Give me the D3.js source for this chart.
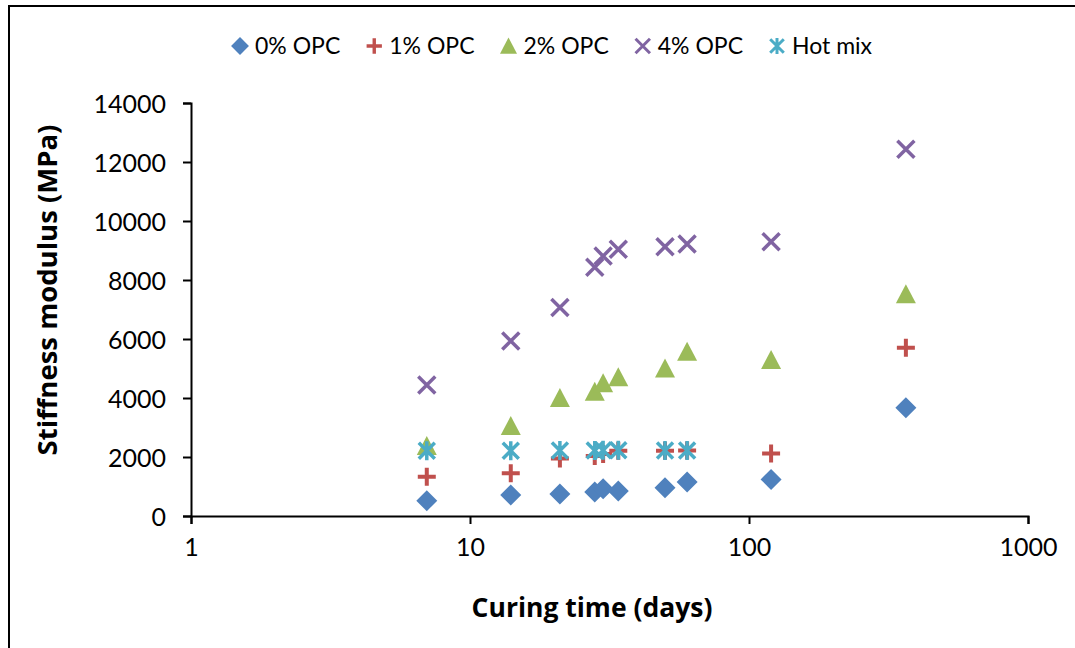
<!DOCTYPE html>
<html>
<head>
<meta charset="utf-8">
<script src="https://cdn.jsdelivr.net/npm/d3@7"></script>
<style>
  html, body { margin: 0; padding: 0; background: #fff; }
  svg { display: block; font-family: Lato, "Open Sans", sans-serif; }
</style>
</head>
<body>
<svg id="chart" width="1075" height="648"></svg>
<script>
// ---- data ----
const days = [7, 14, 21, 28, 30, 34, 50, 60, 120, 365];
const opc0 = [520, 710, 750, 810, 920, 850, 960, 1150, 1240, 3670];
const opc1 = [1330, 1450, 1950, 2030, 2100, 2210, 2210, 2220, 2120, 5700];
const opc2 = [2370, 3050, 4000, 4210, 4500, 4700, 5000, 5570, 5290, 7520];
const opc4 = [4440, 5930, 7070, 8430, 8810, 9040, 9130, 9220, 9300, 12430];
const hotDays = [7, 14, 21, 28, 30, 34, 50, 60];
const hotMix = [2210, 2210, 2220, 2220, 2230, 2230, 2220, 2220];
const seriesNames = ["0% OPC", "1% OPC", "2% OPC", "4% OPC", "Hot mix"];
const xTicks = [1, 10, 100, 1000];
const yTicks = [0, 2000, 4000, 6000, 8000, 10000, 12000, 14000];
const xTitle = "Curing time (days)";
const yTitle = "Stiffness modulus (MPa)";

const colors = ["#4F81BD", "#C0504D", "#9BBB59", "#8064A2", "#4BACC6"];
const series = [
  { name: seriesNames[0], x: days, y: opc0, shape: "diamond", color: colors[0] },
  { name: seriesNames[1], x: days, y: opc1, shape: "plus", color: colors[1] },
  { name: seriesNames[2], x: days, y: opc2, shape: "triangle", color: colors[2] },
  { name: seriesNames[3], x: days, y: opc4, shape: "cross", color: colors[3] },
  { name: seriesNames[4], x: hotDays, y: hotMix, shape: "star", color: colors[4] }
];

const svg = d3.select("#chart");

// outer frame
svg.append("rect").attr("x", 9).attr("y", 6).attr("width", 1100).attr("height", 700)
  .attr("fill", "none").attr("stroke", "#000").attr("stroke-width", 2);

const x = d3.scaleLog().domain([1, 1000]).range([191, 1028]);
const y = d3.scaleLinear().domain([0, 14000]).range([516, 103]);

// axes
const xAxis = svg.append("g").attr("transform", `translate(0,${y(0)})`)
  .call(d3.axisBottom(x).tickValues(xTicks).tickFormat(d3.format("d")).tickSize(8).tickPadding(14));
const yAxis = svg.append("g").attr("transform", `translate(${x(1)},0)`)
  .call(d3.axisLeft(y).tickValues(yTicks).tickFormat(d3.format("d")).tickSize(8).tickPadding(17));
[xAxis, yAxis].forEach(g => {
  g.select(".domain").attr("stroke", "#000").attr("stroke-width", 2);
  g.selectAll(".tick line").attr("stroke", "#000").attr("stroke-width", 2);
  g.selectAll(".tick text").attr("fill", "#000").style("font-size", "25px")
    .style("font-family", "Lato, 'Open Sans', sans-serif");
});
yAxis.selectAll(".tick text").attr("dy", "0.36em");

// axis titles
svg.append("text").attr("x", 592).attr("y", 617).attr("text-anchor", "middle")
  .style("font-family", "'Open Sans', Lato, sans-serif")
  .style("font-size", "26.5px").style("font-weight", "bold").text(xTitle);
svg.append("text").attr("transform", "translate(57,290) rotate(-90)").attr("text-anchor", "middle")
  .style("font-family", "'Open Sans', Lato, sans-serif")
  .style("font-size", "27.5px").style("font-weight", "bold").text(yTitle);

// marker drawing
function drawMarker(g, shape, color) {
  if (shape === "diamond") {
    g.append("path").attr("d", "M0,-10.5L10.5,0L0,10.5L-10.5,0Z").attr("fill", color);
  } else if (shape === "triangle") {
    g.append("path").attr("d", "M0,-10L10,9L-10,9Z").attr("fill", color);
  } else if (shape === "plus") {
    g.append("path").attr("d", "M-9,0H9M0,-9V9").attr("stroke", color).attr("stroke-width", 4).attr("fill", "none");
  } else if (shape === "cross") {
    g.append("path").attr("d", "M-8.5,-8.5L8.5,8.5M-8.5,8.5L8.5,-8.5").attr("stroke", color).attr("stroke-width", 3.5).attr("fill", "none");
  } else if (shape === "star") {
    g.append("path").attr("d", "M-8,-8L8,8M-8,8L8,-8M0,-9.5V9.5").attr("stroke", color).attr("stroke-width", 3.5).attr("fill", "none");
  }
}

// points
series.forEach(s => {
  const pts = s.x.map((d, i) => ({ x: d, y: s.y[i] }));
  svg.append("g").selectAll("g").data(pts).join("g")
    .attr("transform", d => `translate(${x(d.x)},${y(d.y)})`)
    .each(function () { drawMarker(d3.select(this), s.shape, s.color); });
});

// legend
const legend = svg.append("g");
let lx = 240;
series.forEach(s => {
  const g = legend.append("g").attr("transform", `translate(${lx},46)`);
  const m = g.append("g").attr("transform", "scale(0.85)");
  drawMarker(m, s.shape, s.color);
  const t = g.append("text").attr("x", 15).attr("y", 8).style("font-size", "23px").attr("fill", "#000").text(s.name);
  lx += 15 + t.node().getComputedTextLength() + 34;
});
</script>
</body>
</html>
